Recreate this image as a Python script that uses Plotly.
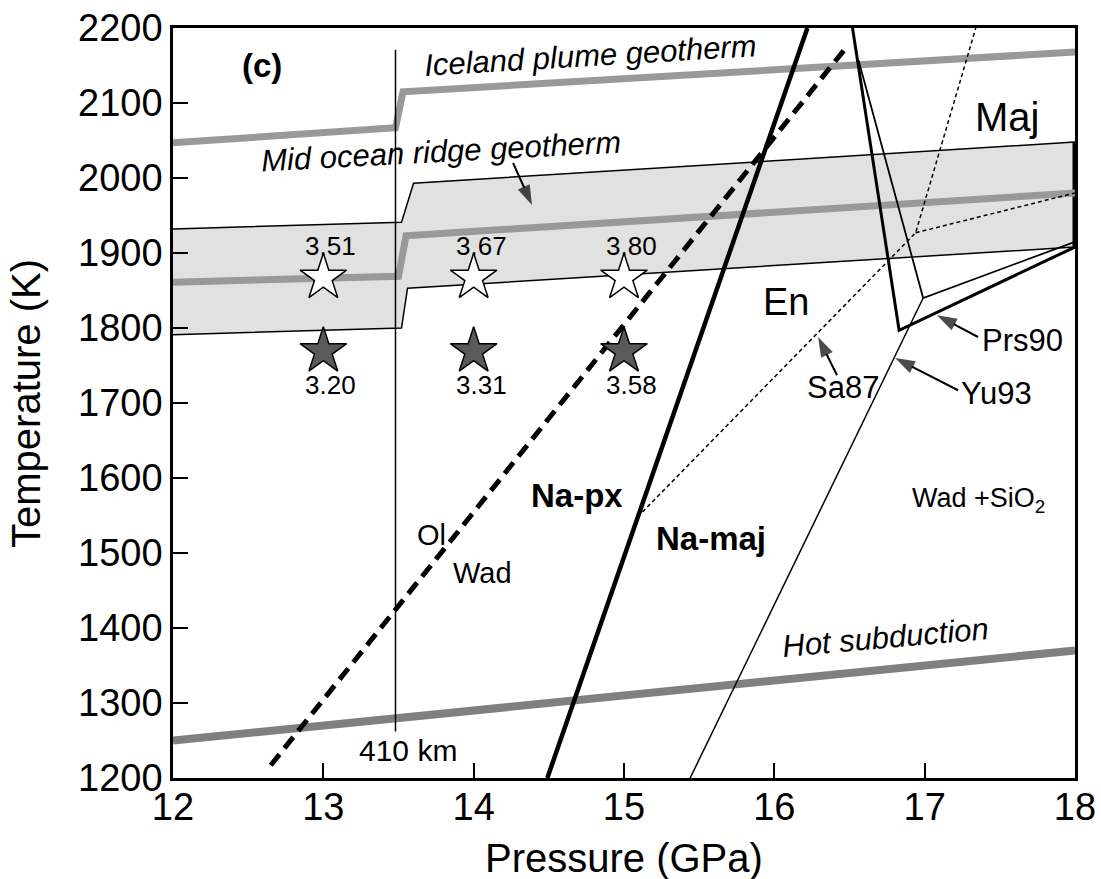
import plotly.graph_objects as go

# ---------------- data ----------------
# Geotherms (P in GPa, T in K)
iceland_P = [12.0, 13.48, 13.53, 18.0]
iceland_T = [2047, 2067, 2115, 2168]

mor_P = [12.0, 13.50, 13.55, 18.0]
mor_T = [1861, 1869, 1923, 1980]

band_upper_P = [12.0, 13.52, 13.60, 18.0]
band_upper_T = [1932, 1941, 1993, 2048]
band_lower_P = [12.0, 13.52, 13.56, 18.0]
band_lower_T = [1791, 1800, 1853, 1908]

hot_P = [12.0, 18.0]
hot_T = [1250, 1370]

# 410 km discontinuity
d410_P = [13.48, 13.48]
d410_T = [1262, 2171]

# Phase boundaries
olwad_P = [12.65, 16.49]
olwad_T = [1217, 2177]

napx_P = [14.49, 16.22]
napx_T = [1200, 2200]

yu93_P = [15.44, 16.99]
yu93_T = [1200, 1840]

prs90_thick_P = [16.52, 16.83, 18.0]
prs90_thick_T = [2200, 1797, 1908]
prs90_thin_P = [16.56, 16.99, 18.0]
prs90_thin_T = [2157, 1840, 1915]

sa87_P = [15.09, 16.94, 17.34]
sa87_T = [1548, 1927, 2200]
sa87_branch_P = [16.94, 18.0]
sa87_branch_T = [1927, 1980]

# Experiments (stars)
star_P = [13, 14, 15]
star_hi_T = [1867, 1867, 1867]
star_hi_lab = ["3.51", "3.67", "3.80"]
star_lo_T = [1769, 1769, 1769]
star_lo_lab = ["3.20", "3.31", "3.58"]

# Pointer arrows (tail -> head)
arrow_tail_P = [14.262, 16.417, 17.222, 17.355]
arrow_tail_T = [2020, 1737, 1717, 1788]
arrow_head_P = [14.388, 16.291, 16.803, 17.082]
arrow_head_T = [1964, 1788, 1760, 1817]

x_ticks = [12, 13, 14, 15, 16, 17, 18]
y_ticks = [1200, 1300, 1400, 1500, 1600, 1700, 1800, 1900, 2000, 2100, 2200]

FONT = "Liberation Sans, Arial, sans-serif"

fig = go.Figure()

# shaded band
fig.add_trace(go.Scatter(
    x=band_upper_P + band_lower_P[::-1],
    y=band_upper_T + band_lower_T[::-1],
    fill="toself", fillcolor="#e1e1e1", mode="lines",
    line=dict(color="black", width=1.5), hoverinfo="skip", showlegend=False))
# thick right edge of band
fig.add_trace(go.Scatter(x=[band_lower_P[-1], band_upper_P[-1]],
                         y=[band_lower_T[-1], band_upper_T[-1]],
                         mode="lines", line=dict(color="black", width=5),
                         showlegend=False, hoverinfo="skip"))

def line(x, y, color="black", width=1.5, dash=None):
    fig.add_trace(go.Scatter(x=x, y=y, mode="lines",
                             line=dict(color=color, width=width, dash=dash),
                             showlegend=False, hoverinfo="skip"))

line(iceland_P, iceland_T, "#999999", 7)
line(mor_P, mor_T, "#999999", 7)
line(hot_P, hot_T, "#808080", 8)
line(d410_P, d410_T, "black", 1.5)
line(sa87_P, sa87_T, "black", 1.5, "4px,3px")
line(sa87_branch_P, sa87_branch_T, "black", 1.5, "4px,3px")
line(olwad_P, olwad_T, "black", 5, "14px,8px")
line(napx_P, napx_T, "black", 4.5)
line(yu93_P, yu93_T, "black", 1.5)
line(prs90_thin_P, prs90_thin_T, "black", 1.8)
line(prs90_thick_P, prs90_thick_T, "black", 3)

# pointer arrows
for tp, tt, hp, ht in zip(arrow_tail_P, arrow_tail_T, arrow_head_P, arrow_head_T):
    fig.add_trace(go.Scatter(
        x=[tp, hp], y=[tt, ht], mode="lines+markers",
        line=dict(color="black", width=2),
        marker=dict(symbol=["circle", "arrow"], size=[0, 21], color="black",
                    angleref="previous", line=dict(width=0)),
        showlegend=False, hoverinfo="skip"))

# stars
fig.add_trace(go.Scatter(x=star_P, y=star_hi_T, mode="markers",
                         marker=dict(symbol="star", size=35, color="white",
                                     line=dict(color="black", width=1.5)),
                         showlegend=False, hoverinfo="skip"))
fig.add_trace(go.Scatter(x=star_P, y=star_lo_T, mode="markers",
                         marker=dict(symbol="star", size=35, color="#5a5a5a",
                                     line=dict(color="black", width=1.5)),
                         showlegend=False, hoverinfo="skip"))

ann = []
def txt(x, y, s, size=28, bold=False, italic=False, angle=0, ref=None):
    if bold:
        s = "<b>" + s + "</b>"
    if italic:
        s = "<i>" + s + "</i>"
    d = dict(x=x, y=y, text=s, showarrow=False, textangle=angle,
             xanchor="center", yanchor="middle",
             font=dict(family=FONT, size=size, color="black"))
    if ref:
        d.update(xref="paper", yref="paper")
    ann.append(d)

for p, t, lab in zip(star_P, star_hi_T, star_hi_lab):
    txt(p + 0.05, t + 43, lab, 26)
for p, t, lab in zip(star_P, star_lo_T, star_lo_lab):
    txt(p + 0.05, t - 45, lab, 26)

txt(12.59, 2150, "(c)", 33, bold=True)
txt(14.78, 2164, "Iceland plume geotherm", 31, italic=True, angle=-3.4)
txt(13.78, 2035, "Mid ocean ridge geotherm", 31, italic=True, angle=-3)
txt(16.74, 1388, "Hot subduction", 31, italic=True, angle=-5)
txt(13.56, 1237, "410 km", 30)
txt(13.72, 1524, "Ol", 29)
txt(14.06, 1473, "Wad", 29)
txt(17.36, 1571, "Wad +SiO<sub>2</sub>", 27)
txt(17.55, 2081, "Maj", 40)
txt(16.08, 1835, "En", 38)
txt(17.65, 1784, "Prs90", 31)
txt(17.48, 1713, "Yu93", 31)
txt(16.46, 1721, "Sa87", 31)
txt(14.69, 1577, "Na-px", 33, bold=True)
txt(15.58, 1519, "Na-maj", 33, bold=True)

# axis titles (placed in paper coordinates)
txt(0.5, -0.107, "Pressure (GPa)", 40, ref=True)
txt(-0.163, 0.5, "Temperature (K)", 40, angle=-90, ref=True)

axis_common = dict(showgrid=False, zeroline=False, showline=True,
                   linecolor="black", linewidth=2.5, mirror=True,
                   ticks="inside", ticklen=15, tickwidth=2, tickcolor="black",
                   automargin=False,
                   tickfont=dict(family=FONT, size=38, color="black"))

fig.update_layout(
    width=1101, height=879,
    margin=dict(l=173, r=26, t=28, b=101),
    paper_bgcolor="white", plot_bgcolor="white",
    annotations=ann,
    xaxis=dict(range=[12, 18], tickvals=x_ticks,
               ticktext=[str(v) for v in x_ticks],
               ticklabelstandoff=-6,
               **axis_common),
    yaxis=dict(range=[1200, 2200], tickvals=y_ticks,
               ticktext=[str(v) for v in y_ticks],
               **axis_common),
)

fig.write_html("out.html")
